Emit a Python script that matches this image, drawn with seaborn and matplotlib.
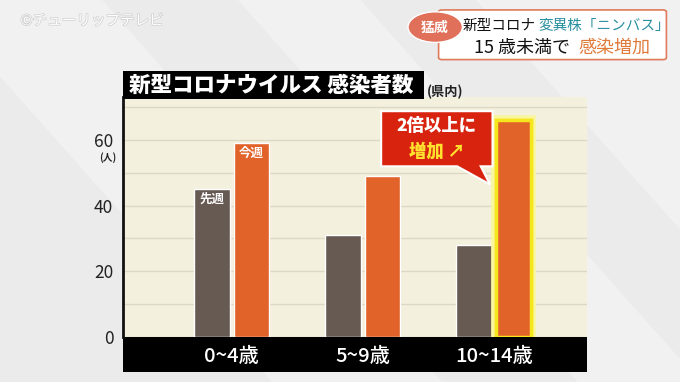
import numpy as np
import pandas as pd
import matplotlib.pyplot as plt
import matplotlib.patheffects as pe
from matplotlib.patches import Rectangle, Polygon, Circle, FancyBboxPatch
import seaborn as sns

# data (県内 感染者数)
ages = ['0~4歳', '5~9歳', '10~14歳']
last_week = [45, 31, 28]
this_week = [59, 49, 66]
weeks = ['先週', '今週']
y_ticks = [0, 20, 40, 60]

df = pd.DataFrame({
    'age': ages * 2,
    'count': last_week + this_week,
    'week': [weeks[0]] * 3 + [weeks[1]] * 3,
})

sns.set_style('white')
plt.rcParams['font.family'] = ['Noto Sans CJK JP', 'DejaVu Sans']

GRAY = '#675a52'
ORANGE = '#e2632a'
CREAM = '#f3f0de'

fig = plt.figure(figsize=(6.8, 3.82), dpi=100, facecolor='#ebebeb')

# soft diagonal sheen in the background
for x0, w in [(-0.1, 0.25), (0.35, 0.18), (0.7, 0.3)]:
    fig.patches.append(Polygon([(x0, 1), (x0 + w, 1), (x0 + w + 0.5, 0), (x0 + 0.5, 0)],
                               closed=True, transform=fig.transFigure,
                               facecolor='white', alpha=0.35, lw=0, zorder=-5))

ax = fig.add_axes([0.181, 0.118, 0.682, 0.627])
ax.set_zorder(2)
ax.set_facecolor(CREAM)

sns.barplot(data=df, x='age', y='count', hue='week', hue_order=weeks,
            palette=[GRAY, ORANGE], width=0.6, gap=0.1, saturation=1,
            legend=False, ax=ax, zorder=3)

ax.set_xlim(-0.83, 2.71)
ax.set_ylim(0, 73)
ax.set_yticks(y_ticks)
ax.set_yticks([10, 30, 50, 70], minor=True)
ax.grid(axis='y', which='both', color='#dcd8c4', lw=1, zorder=0)
ax.set_axisbelow(True)
ax.tick_params(axis='y', which='both', length=0, pad=7, labelsize=12.5, labelcolor='#222222')
ax.tick_params(axis='x', length=0, pad=7, labelsize=14.5, labelcolor='white')
ax.set_xlabel('')
ax.set_ylabel('')
for s in ['top', 'right', 'bottom']:
    ax.spines[s].set_visible(False)
ax.spines['left'].set_color('#111111')
ax.spines['left'].set_linewidth(2)

# glow on the 10~14 this-week bar
hot = ax.patches[5]
hot.set_edgecolor('#f5e61e')
hot.set_linewidth(2.5)
hot.set_path_effects([pe.withStroke(linewidth=7, foreground='#faf6a0'), pe.Normal()])

# black band for the category labels
fig.patches.append(Rectangle((0.181, 0.026), 0.682, 0.093, transform=fig.transFigure,
                             facecolor='black', lw=0, zorder=1))
for lab in ax.get_xticklabels():
    lab.set_fontweight('medium')

# title box
fig.patches.append(Rectangle((0.181, 0.741), 0.443, 0.072, transform=fig.transFigure,
                             facecolor='black', lw=0, zorder=3))
fig.text(0.189, 0.777, '新型コロナウイルス 感染者数', color='white', fontsize=15.5,
         fontweight='black', va='center', ha='left', zorder=4)
fig.text(0.628, 0.758, '(県内)', color='#222222', fontsize=9.5, fontweight='bold',
         va='center', ha='left', zorder=4)
fig.text(0.158, 0.588, '(人)', color='#222222', fontsize=7, fontweight='bold',
         va='center', ha='center', zorder=4)

# bar labels
ax.text(-0.15, 44, weeks[0], color='white', fontsize=9, fontweight='bold', ha='center', va='top', zorder=5)
ax.text(0.15, 58, weeks[1], color='white', fontsize=9, fontweight='bold', ha='center', va='top', zorder=5)

# callout
ax.add_patch(Polygon([(1.14, 68.8), (1.99, 68.8), (1.99, 52), (1.90, 52), (1.97, 46.5),
                      (1.72, 52), (1.14, 52)], closed=True, facecolor='#d8230f',
                     edgecolor='white', lw=1.5, clip_on=False, zorder=6))
ax.text(1.565, 64.3, '2倍以上に', color='white', fontsize=12.5, fontweight='black',
        ha='center', va='center', zorder=7)
ax.text(1.565, 56.6, '増加 ↗', color='#ffe12e', fontsize=12.5, fontweight='black',
        ha='center', va='center', zorder=7)

# header badge
fig.patches.append(FancyBboxPatch((0.650, 0.849), 0.325, 0.120, boxstyle='round,pad=0.005',
                                  transform=fig.transFigure, facecolor='white',
                                  edgecolor='#e07a5a', lw=1.2, zorder=3))
fig.patches.append(Circle((0.640, 0.929), 0.040, transform=fig.transFigure,
                          facecolor='#e0705a', edgecolor='white', lw=1, zorder=4))
fig.text(0.640, 0.927, '猛威', color='white', fontsize=10, fontweight='bold',
         ha='center', va='center', zorder=5)
fig.text(0.680, 0.932, '新型コロナ', color='#111111', fontsize=10.5, ha='left', va='center', zorder=5)
fig.text(0.791, 0.932, '変異株「ニンバス」', color='#2a8fa0', fontsize=10.5, ha='left', va='center', zorder=5)
fig.text(0.697, 0.874, '15 歳未満で', color='#111111', fontsize=13, ha='left', va='center', zorder=5)
fig.text(0.850, 0.874, '感染増加', color='#e07a3a', fontsize=13, ha='left', va='center', zorder=5)

fig.text(0.03, 0.945, '©チューリップテレビ', color='white', fontsize=10.5, ha='left', va='center',
         path_effects=[pe.withStroke(linewidth=1, foreground='#cfcfcf')])

fig.savefig('out.png', dpi=100, facecolor=fig.get_facecolor())
